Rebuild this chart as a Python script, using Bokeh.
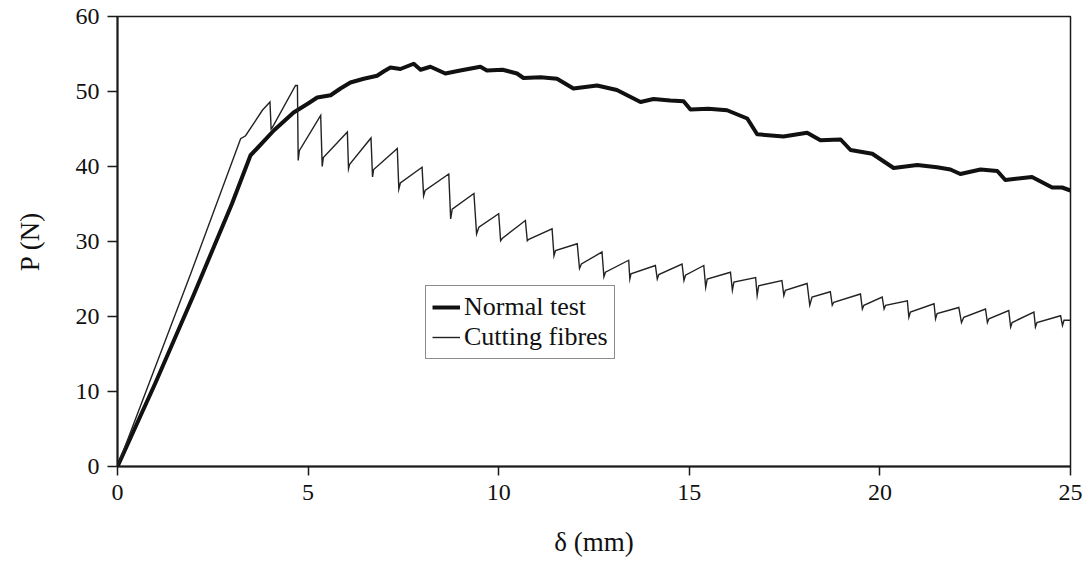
from bokeh.plotting import figure
from bokeh.models import Legend, LegendItem, FixedTicker, Range1d
from bokeh.embed import file_html
from bokeh.resources import INLINE

# ---- data ----
normal_x = [0, 1.0, 2.0, 3.0, 3.49, 3.66, 4.1, 4.62, 5.0, 5.24, 5.59, 5.85, 6.11, 6.46, 6.81, 6.99,
            7.16, 7.42, 7.77, 7.95, 8.21, 8.6, 8.99, 9.52, 9.69, 10.1, 10.48, 10.65, 11.1, 11.53,
            11.96, 12.58, 13.1, 13.72, 14.06, 14.5, 14.85, 15.03, 15.5, 15.99, 16.52, 16.78,
            17.47, 18.09, 18.44, 18.97, 19.23, 19.8, 20.36, 20.98, 21.5, 21.85, 22.11, 22.64,
            23.08, 23.29, 23.99, 24.52, 24.78, 25.0]
normal_p = [0, 11.2, 22.9, 35.0, 41.5, 42.4, 44.8, 47.2, 48.4, 49.2, 49.5, 50.4, 51.2, 51.7, 52.1, 52.7,
            53.2, 53.0, 53.7, 52.9, 53.3, 52.4, 52.8, 53.3, 52.8, 52.9, 52.4, 51.8, 51.9, 51.7,
            50.4, 50.8, 50.2, 48.6, 49.0, 48.8, 48.7, 47.6, 47.7, 47.5, 46.4, 44.3,
            44.0, 44.5, 43.5, 43.6, 42.2, 41.7, 39.8, 40.2, 39.9, 39.6, 39.0, 39.6,
            39.4, 38.2, 38.6, 37.2, 37.2, 36.8]

cut_x = [0, 1.92, 3.23, 3.36, 3.8, 4.0, 4.03, 4.06,
         4.67, 4.72, 4.74, 4.77,
         5.33, 5.37, 5.40,
         6.03, 6.06, 6.09,
         6.65, 6.69, 6.72,
         7.34, 7.38, 7.42,
         7.99, 8.03, 8.07,
         8.69, 8.74, 8.78,
         9.35, 9.42, 9.48,
         10.0, 10.05, 10.09,
         10.70, 10.75, 10.79,
         11.40, 11.45, 11.49,
         12.06, 12.12, 12.17,
         12.71, 12.76, 12.80,
         13.41, 13.44, 13.47,
         14.11, 14.16, 14.20,
         14.81, 14.86, 14.90,
         15.38, 15.43, 15.47,
         16.08, 16.13, 16.17,
         16.74, 16.78, 16.82,
         17.43, 17.48, 17.52,
         18.09, 18.16, 18.22,
         18.70, 18.75, 18.79,
         19.49, 19.54, 19.58,
         20.06, 20.11, 20.15,
         20.72, 20.76, 20.80,
         21.42, 21.46, 21.50,
         22.07, 22.14, 22.20,
         22.77, 22.82, 22.86,
         23.38, 23.43, 23.47,
         24.04, 24.08, 24.12,
         24.74, 24.79, 24.83,
         25.0]
cut_p = [0, 25.7, 43.7, 44.1, 47.5, 48.6, 45.0, 45.2,
         50.8, 50.8, 40.8, 42.1,
         46.8, 40.0, 41.2,
         44.6, 39.7, 40.3,
         43.8, 38.6, 39.6,
         42.4, 37.0, 37.8,
         39.9, 36.1, 36.8,
         39.0, 33.0, 34.3,
         36.4, 31.0, 31.9,
         33.7, 30.1, 30.4,
         32.8, 30.1, 30.3,
         31.7, 28.1, 28.8,
         29.7, 26.4, 27.0,
         28.6, 25.3, 25.9,
         27.5, 25.0, 25.7,
         26.8, 25.0, 25.6,
         27.0, 24.8, 25.5,
         26.8, 23.9, 25.0,
         25.9, 23.5, 24.6,
         25.2, 22.8, 24.1,
         24.8, 22.8, 23.5,
         24.4, 21.5, 22.6,
         23.3, 21.5, 21.9,
         23.0, 21.0, 21.5,
         22.6, 21.0, 21.5,
         22.1, 19.9, 20.6,
         21.7, 19.7, 20.4,
         21.2, 19.2, 19.9,
         21.0, 19.2, 19.7,
         20.8, 18.6, 19.2,
         20.6, 18.6, 19.2,
         20.1, 18.8, 19.5,
         19.5]

x_ticks = [0, 5, 10, 15, 20, 25]
y_ticks = [0, 10, 20, 30, 40, 50, 60]
series_names = ["Normal test", "Cutting fibres"]
x_title = "δ (mm)"
y_title = "P (N)"

FONT = "Liberation Serif"
INK = "#1a1a1a"

p = figure(width=1085, height=567, output_backend="svg", toolbar_location=None,
           x_range=Range1d(0, 25), y_range=Range1d(0, 60),
           min_border_left=117, min_border_right=15, min_border_top=16, min_border_bottom=101)
p.background_fill_color = "white"
p.border_fill_color = "white"
p.outline_line_color = INK
p.outline_line_width = 1.5
p.xgrid.visible = False
p.ygrid.visible = False

for ax, ticks in ((p.xaxis, x_ticks), (p.yaxis, y_ticks)):
    ax.ticker = FixedTicker(ticks=ticks)
    ax.axis_line_color = INK
    ax.axis_line_width = 2
    ax.major_tick_line_color = INK
    ax.major_tick_line_width = 1.5
    ax.major_tick_in = 0
    ax.minor_tick_line_color = None
    ax.major_label_text_font = FONT
    ax.major_label_text_font_size = "24px"
    ax.major_label_text_color = "#111111"
    ax.axis_label_text_font = FONT
    ax.axis_label_text_font_size = "27px"
    ax.axis_label_text_font_style = "normal"
    ax.axis_label_text_color = "#111111"
p.xaxis.major_tick_out = 9
p.yaxis.major_tick_out = 10
p.xaxis.major_label_standoff = 9
p.yaxis.major_label_standoff = 8
p.xaxis.axis_label = x_title
p.yaxis.axis_label = y_title
p.xaxis.axis_label_standoff = 24
p.yaxis.axis_label_standoff = 28

r_norm = p.line(normal_x, normal_p, line_color="#111111", line_width=4, line_join="round")
r_cut = p.line(cut_x, cut_p, line_color="#222222", line_width=1.4, line_join="miter")

legend = Legend(items=[LegendItem(label=series_names[0], renderers=[r_norm]),
                       LegendItem(label=series_names[1], renderers=[r_cut])],
                location=(308, 107), orientation="vertical")
legend.label_text_font = FONT
legend.label_text_font_size = "26px"
legend.label_text_color = "#111111"
legend.glyph_width = 28
legend.glyph_height = 28
legend.label_height = 28
legend.label_standoff = 4
legend.padding = 6
legend.spacing = 0
legend.margin = 0
legend.border_line_color = INK
legend.border_line_width = 1.5
legend.background_fill_alpha = 1
p.add_layout(legend, "center")

open("out.html", "w").write(file_html(p, INLINE))
